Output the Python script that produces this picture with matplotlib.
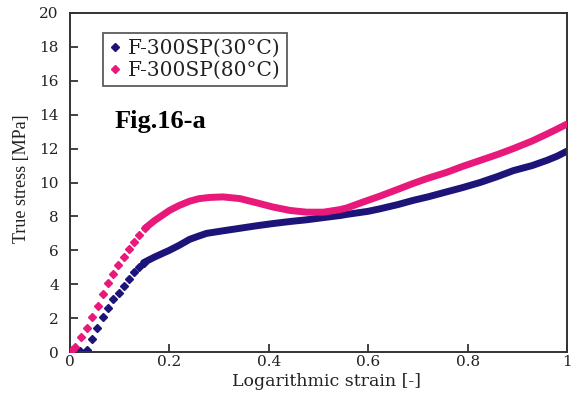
import matplotlib.pyplot as plt
from matplotlib.lines import Line2D

# values
# sparse diamond markers at small strain
strain_30_pts = [0.007, 0.02, 0.035, 0.045, 0.055, 0.067, 0.077, 0.087, 0.098, 0.109, 0.119, 0.129, 0.139, 0.148]
stress_30_pts = [0.0, 0.05, 0.1, 0.75, 1.4, 2.05, 2.57, 3.13, 3.5, 3.9, 4.3, 4.74, 5.03, 5.27]
strain_80_pts = [0.0, 0.004, 0.01, 0.023, 0.035, 0.045, 0.056, 0.066, 0.076, 0.087, 0.097, 0.109, 0.119, 0.129, 0.139, 0.151]
stress_80_pts = [0.0, 0.1, 0.3, 0.87, 1.4, 2.05, 2.7, 3.4, 4.05, 4.6, 5.13, 5.62, 6.08, 6.5, 6.9, 7.3]

# dense part (markers overlap into a band)
strain_30 = [0.148, 0.17, 0.2, 0.22, 0.241, 0.26, 0.275, 0.308, 0.342, 0.376, 0.409, 0.443, 0.476, 0.51,
             0.543, 0.557, 0.6, 0.624, 0.66, 0.691, 0.72, 0.758, 0.79, 0.825, 0.86, 0.892, 0.93, 0.959, 0.98, 1.0]
stress_30 = [5.27, 5.6, 6.0, 6.3, 6.65, 6.85, 7.0, 7.15, 7.3, 7.45, 7.58, 7.7, 7.8, 7.93,
             8.05, 8.12, 8.3, 8.45, 8.7, 8.95, 9.15, 9.45, 9.7, 10.0, 10.35, 10.7, 11.0, 11.3, 11.55, 11.85]
strain_80 = [0.151, 0.17, 0.2, 0.22, 0.241, 0.26, 0.282, 0.308, 0.342, 0.376, 0.409, 0.443, 0.476, 0.51,
             0.543, 0.557, 0.59, 0.624, 0.66, 0.691, 0.72, 0.758, 0.79, 0.825, 0.86, 0.892, 0.93, 0.959, 0.98, 1.0]
stress_80 = [7.3, 7.75, 8.35, 8.65, 8.9, 9.05, 9.12, 9.15, 9.05, 8.8, 8.55, 8.35, 8.25, 8.25,
             8.4, 8.5, 8.85, 9.2, 9.6, 9.95, 10.25, 10.6, 10.95, 11.3, 11.65, 12.0, 12.45, 12.85, 13.15, 13.45]

labels = ['F-300SP(30\u00b0C)', 'F-300SP(80\u00b0C)']
x_ticks = [0, 0.2, 0.4, 0.6, 0.8, 1]
x_ticklabels = ['0', '0.2', '0.4', '0.6', '0.8', '1']
y_ticks = [0, 2, 4, 6, 8, 10, 12, 14, 16, 18, 20]

blue = '#1c1478'
pink = '#e8197a'
axis_col = '#333333'

fig = plt.figure(figsize=(5.75, 3.94), dpi=100)
ax = fig.add_axes([70/575, 42/394, 497/575, 339/394])

ax.plot(strain_30, stress_30, color=blue, lw=5, solid_capstyle='round', zorder=2)
ax.plot(strain_30_pts, stress_30_pts, 'D', color=blue, ms=4.5, zorder=2)
ax.plot(strain_80, stress_80, color=pink, lw=5, solid_capstyle='round', zorder=3)
ax.plot(strain_80_pts, stress_80_pts, 'D', color=pink, ms=4.5, zorder=3)

ax.set_xlim(0, 1)
ax.set_ylim(0, 20)
ax.set_xticks(x_ticks)
ax.set_xticklabels(x_ticklabels)
ax.set_yticks(y_ticks)
ax.tick_params(direction='in', length=6, width=1.3, color=axis_col, labelcolor='#222222',
               labelsize=11, top=False, right=False)
ax.tick_params(axis='y', pad=8)
ax.tick_params(axis='x', pad=2)
for lab in ax.get_xticklabels() + ax.get_yticklabels():
    lab.set_family('DejaVu Serif')
for sp in ax.spines.values():
    sp.set_color(axis_col)
    sp.set_linewidth(1.4)

handles = [Line2D([], [], marker='D', ls='', color=blue, ms=4),
           Line2D([], [], marker='D', ls='', color=pink, ms=4)]
leg = ax.legend(handles, labels, loc='upper left', bbox_to_anchor=(103/575, 1 - 33/394),
                bbox_transform=fig.transFigure, fancybox=False, frameon=True, borderaxespad=0,
                handlelength=0.6, handletextpad=0.35, borderpad=0.3, labelspacing=0.15,
                prop={'family': 'DejaVu Serif', 'size': 14.5})
leg.get_frame().set_edgecolor(axis_col)
leg.get_frame().set_linewidth(1.3)
for t in leg.get_texts():
    t.set_color('#222222')

fig.text(115/575, 1 - 128/394, 'Fig.16-a', family='Liberation Serif', fontweight='bold',
         fontsize=19, color='black', ha='left', va='baseline')
fig.text(22/575, 1 - 179/394, 'True stress [MPa]', family='Liberation Serif', fontsize=13,
         rotation=90, ha='center', va='center', color='#222222')
fig.text(326/575, 1 - 381/394, 'Logarithmic strain [-]', family='DejaVu Serif', fontsize=12.5,
         ha='center', va='center', color='#222222')

fig.savefig('out.png', dpi=100)
